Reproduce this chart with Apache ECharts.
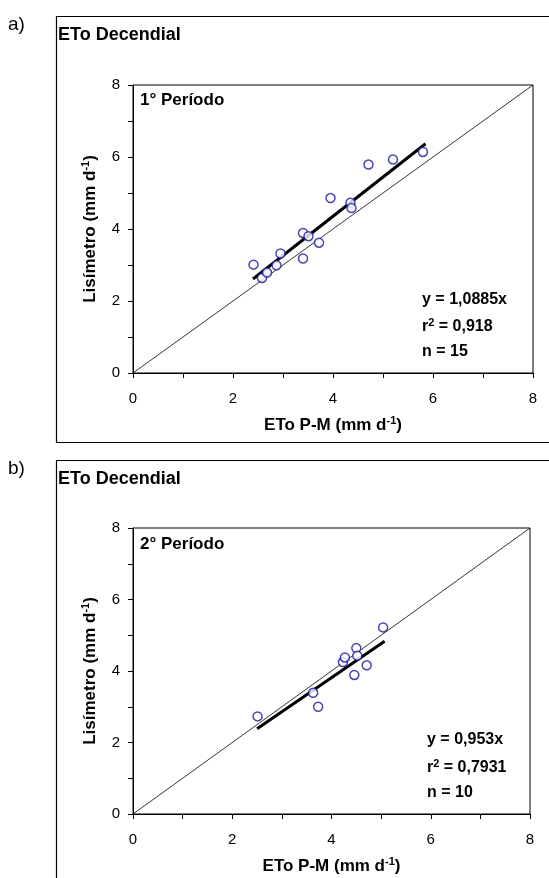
<!DOCTYPE html>
<html>
<head>
<meta charset="utf-8">
<script src="https://cdn.jsdelivr.net/npm/echarts@6/dist/echarts.min.js"></script>
<style>
html,body{margin:0;padding:0;background:#fff;}
#c{width:549px;height:878px;}
</style>
</head>
<body>
<div id="c"></div>
<script>
// Panel a) 1° Período
var xA = [2.41, 2.58, 2.68, 2.87, 2.95, 3.40, 3.40, 3.51, 3.72, 3.95, 4.35, 4.37, 4.71, 5.20, 5.80];
var yA = [3.01, 2.64, 2.79, 2.99, 3.32, 3.18, 3.89, 3.80, 3.62, 4.86, 4.73, 4.58, 5.79, 5.93, 6.14];
var slopeA = 1.0885;
var fitRangeA = [2.4, 5.85];
// Panel b) 2° Período
var xB = [2.51, 3.63, 3.73, 4.23, 4.27, 4.46, 4.50, 4.52, 4.71, 5.04];
var yB = [2.73, 3.39, 3.00, 4.25, 4.38, 3.89, 4.64, 4.43, 4.16, 5.22];
var slopeB = 0.953;
var fitRangeB = [2.5, 5.07];
var axisTicks = [0, 2, 4, 6, 8];
var textA = ['y = 1,0885x', '0,918', 'n = 15'];
var textB = ['y = 0,953x', '0,7931', 'n = 10'];

var FONT = '"Liberation Sans", Arial, sans-serif';
var chart = echarts.init(document.getElementById('c'));

function pairs(xs, ys){ return xs.map(function(x,i){ return [x, ys[i]]; }); }
function fit(s, r){ return [[r[0], s*r[0]], [r[1], s*r[1]]]; }

var nameRich = {
  a: {fontFamily: FONT, fontSize: 17, fontWeight: 'bold', color: '#000', lineHeight: 20},
  s: {fontFamily: FONT, fontSize: 11, fontWeight: 'bold', color: '#000', lineHeight: 20, verticalAlign: 'top', padding:[0,0,9,0]}
};
function xAxis(gi){
  return {
    gridIndex: gi, type: 'value', min: 0, max: 8, interval: 1,
    name: '{a|ETo P-M (mm d}{s|-1}{a|)}', nameLocation: 'middle', nameGap: 42,
    nameTextStyle: {rich: nameRich},
    axisLine: {show: true, lineStyle: {color: '#000', width: 1}},
    axisTick: {show: true, length: 5, lineStyle: {color: '#000'}},
    axisLabel: {fontFamily: FONT, fontSize: 15, color: '#000', margin: 18,
      formatter: function(v){ return axisTicks.indexOf(v) >= 0 ? String(v) : ''; }},
    splitLine: {show: false}
  };
}
function yAxis(gi){
  return {
    gridIndex: gi, type: 'value', min: 0, max: 8, interval: 1,
    name: '{a|Lisímetro (mm d}{s|-1}{a|)}', nameLocation: 'middle', nameGap: 32, nameRotate: 90,
    nameTextStyle: {rich: nameRich},
    axisLine: {show: true, lineStyle: {color: '#000', width: 1}},
    axisTick: {show: true, length: 5, lineStyle: {color: '#000'}},
    axisLabel: {fontFamily: FONT, fontSize: 15, color: '#000', margin: 13,
      formatter: function(v){ return axisTicks.indexOf(v) >= 0 ? String(v) : ''; }},
    splitLine: {show: false}
  };
}
function scatter(gi, data){
  return {type: 'scatter', xAxisIndex: gi, yAxisIndex: gi, data: data, symbol: 'circle', symbolSize: 9,
    itemStyle: {color: '#fff', borderColor: '#1a1a9c', borderWidth: 1.5}, z: 5, silent: true};
}
function line(gi, data, w){
  return {type: 'line', xAxisIndex: gi, yAxisIndex: gi, data: data, symbol: 'none',
    lineStyle: {color: '#000', width: w}, z: 3, silent: true, animation: false};
}
function txt(x, y, t, size, bold){
  return {type: 'text', left: x, top: y, style: {text: t, fontFamily: FONT, fontSize: size,
    fontWeight: bold ? 'bold' : 'normal', fill: '#000'}};
}
function r2(x, y, val){
  return {type: 'text', left: x, top: y, style: {
    rich: {
      a: {fontFamily: FONT, fontSize: 16, fontWeight: 'bold', fill: '#000', lineHeight: 20},
      s: {fontFamily: FONT, fontSize: 11, fontWeight: 'bold', fill: '#000', lineHeight: 20, verticalAlign: 'top', padding: [0,0,9,0]}
    },
    text: '{a|r}{s|2}{a| = ' + val + '}'
  }};
}

chart.setOption({
  animation: false,
  backgroundColor: '#fff',
  grid: [
    {left: 133, top: 85, width: 400, height: 288, show: true, borderColor: '#000', borderWidth: 1},
    {left: 133, top: 528, width: 397, height: 286, show: true, borderColor: '#000', borderWidth: 1}
  ],
  xAxis: [xAxis(0), xAxis(1)],
  yAxis: [yAxis(0), yAxis(1)],
  series: [
    line(0, [[0,0],[8,8]], 0.8),
    line(0, fit(slopeA, fitRangeA), 3),
    scatter(0, pairs(xA, yA)),
    line(1, [[0,0],[8,8]], 0.8),
    line(1, fit(slopeB, fitRangeB), 3),
    scatter(1, pairs(xB, yB))
  ],
  graphic: [
    {type: 'rect', shape: {x: 56.5, y: 16.5, width: 520, height: 426}, style: {fill: 'none', stroke: '#000', lineWidth: 1.2}, silent: true},
    {type: 'rect', shape: {x: 56.5, y: 460.5, width: 520, height: 440}, style: {fill: 'none', stroke: '#000', lineWidth: 1.2}, silent: true},
    txt(8, 15, 'a)', 19, false),
    txt(58, 26, 'ETo Decendial', 18, true),
    txt(140, 92, '1° Período', 17, true),
    txt(422, 292, textA[0], 16, true),
    r2(422, 317, textA[1]),
    txt(422, 344, textA[2], 16, true),
    txt(8, 459, 'b)', 19, false),
    txt(58, 470, 'ETo Decendial', 18, true),
    txt(140, 536, '2° Período', 17, true),
    txt(427, 732, textB[0], 16, true),
    r2(427, 758, textB[1]),
    txt(427, 785, textB[2], 16, true)
  ]
});
</script>
</body>
</html>
